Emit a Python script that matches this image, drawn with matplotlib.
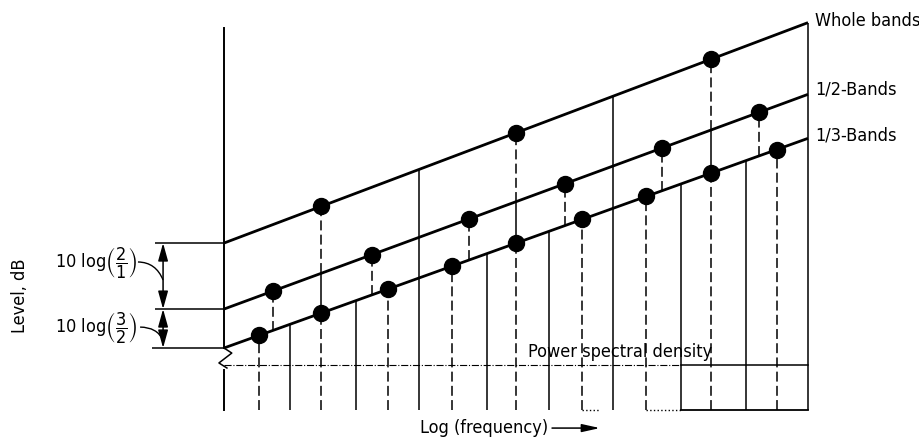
import matplotlib
matplotlib.use("Agg")
import matplotlib.pyplot as plt
from matplotlib import font_manager
import numpy as np
from matplotlib.path import Path
from matplotlib.patches import PathPatch

# narrow sans if available, else condensed DejaVu
names = {f.name for f in font_manager.fontManager.ttflist}
if 'Liberation Sans Narrow' in names:
    plt.rcParams['font.family'] = ['Liberation Sans Narrow', 'DejaVu Sans']
else:
    plt.rcParams['font.family'] = ['DejaVu Sans']
    plt.rcParams['font.stretch'] = 'condensed'
plt.rcParams['mathtext.fontset'] = 'dejavusans'
plt.rcParams['lines.dashed_pattern'] = [6.5, 2.8]

# x : octaves from the left edge,  y : level in dB (0 = start of the 1/3-band line)
line_ends = [0.0, 3.0]
whole_line = [4.77, 14.79]
half_line = [1.77, 11.53]
third_line = [0.0, 9.53]

whole_centers = [0.50, 1.50, 2.50]
whole_levels = [6.44, 9.78, 13.12]
half_centers = [0.25, 0.76, 1.26, 1.75, 2.25, 2.75]
half_levels = [2.58, 4.24, 5.87, 7.46, 9.09, 10.72]
third_centers = [0.18, 0.50, 0.84, 1.17, 1.50, 1.84, 2.17, 2.50, 2.84]
third_levels = [0.57, 1.59, 2.67, 3.72, 4.77, 5.85, 6.89, 7.94, 9.02]

whole_edges = [1.0, 2.0, 3.0]
half_edges = [0.5, 1.5, 2.5]
third_edges = [0.34, 0.68, 1.35, 1.67, 2.35, 2.68]

line_labels = ['Whole bands', '1/2-Bands', '1/3-Bands']
axis_top = 14.55
floor = -2.82
psd_level = -0.77
psd_solid_from = 2.35
psd_dotted = [[1.84, 1.93], [2.17, 2.35]]


def at(line, x):
    return np.interp(x, line_ends, line)


fig = plt.figure(figsize=(9.2, 4.42), dpi=100)
ax = fig.add_axes([0, 0, 1, 1])
ax.set_xlim(-1.1507, 3.5753)
ax.set_ylim(-4.273, 15.818)
ax.axis('off')

K = 'black'

# band level lines
for line in (whole_line, half_line, third_line):
    ax.plot(line_ends, line, color=K, lw=2.0, solid_capstyle='butt')

# band edges (solid)
ax.vlines(whole_edges, floor, at(whole_line, whole_edges), color=K, lw=1.1)
ax.vlines(half_edges, at(third_line, half_edges), at(half_line, half_edges), color=K, lw=1.1)
ax.vlines(third_edges, floor, at(third_line, third_edges), color=K, lw=1.1)

# band centres (dashed)
ax.vlines(whole_centers, at(half_line, whole_centers), whole_levels, color=K, lw=1.1, linestyles='dashed')
ax.vlines(half_centers, at(third_line, half_centers), half_levels, color=K, lw=1.1, linestyles='dashed')
ax.vlines(third_centers, floor, third_levels, color=K, lw=1.1, linestyles='dashed')

# dots
for cx, lv in ((whole_centers, whole_levels), (half_centers, half_levels), (third_centers, third_levels)):
    ax.plot(cx, lv, 'o', color=K, ms=11.5, zorder=5)

# left axis with break mark
ax.plot([0, 0], [third_line[0], axis_top], color=K, lw=1.4)
ax.plot([0, 0.04, -0.026, 0.015], [0, -0.23, -0.68, -0.91], color=K, lw=1.1)
ax.plot([0, 0], [-1.0, floor], color=K, lw=1.4)

# power spectral density
ax.plot([0, psd_solid_from], [psd_level, psd_level], color=K, lw=0.8, ls='-.')
ax.plot([psd_solid_from, line_ends[1]], [psd_level, psd_level], color=K, lw=1.1)
ax.plot([psd_solid_from, line_ends[1]], [floor, floor], color=K, lw=1.3)
for seg in psd_dotted:
    ax.plot(seg, [floor, floor], color=K, lw=1.0, ls=':')

# level differences at left
ax.hlines([whole_line[0], half_line[0]], -0.354, 0, color=K, lw=1.1)
ax.hlines(third_line[0], -0.37, 0, color=K, lw=1.1)
for y0, y1 in ((whole_line[0], half_line[0]), (half_line[0], third_line[0])):
    ax.annotate('', xy=(-0.313, y1), xytext=(-0.313, y0),
                arrowprops=dict(arrowstyle='<|-|>,head_length=0.9,head_width=0.25',
                                color=K, lw=1.1, shrinkA=0, shrinkB=0, mutation_scale=12))

fs = 13
ax.text(-0.447, 3.86, r'10 log$\left(\dfrac{2}{1}\right)$', ha='right', va='center', fontsize=fs)
ax.text(-0.447, 0.91, r'10 log$\left(\dfrac{3}{2}\right)$', ha='right', va='center', fontsize=fs)
for pts in ([(-0.442, 3.91), (-0.35, 3.9), (-0.313, 3.09)],
            [(-0.431, 0.95), (-0.345, 0.95), (-0.313, 0.36)]):
    ax.add_patch(PathPatch(Path(pts, [Path.MOVETO, Path.CURVE3, Path.CURVE3]),
                           fc='none', ec=K, lw=1.0))

# labels
for lab, y in zip(line_labels, [14.86, 11.73, 9.68]):
    ax.text(3.036, y, lab, ha='left', va='center', fontsize=fs)
ax.text(1.562, -0.41, 'Power spectral density', ha='left', va='baseline', fontsize=fs)
ax.text(1.007, -3.64, 'Log (frequency)', ha='left', va='center', fontsize=fs)
ax.annotate('', xy=(1.931, -3.64), xytext=(1.685, -3.64),
            arrowprops=dict(arrowstyle='-|>,head_length=0.9,head_width=0.2',
                            color=K, lw=1.1, shrinkA=0, shrinkB=0, mutation_scale=12))
ax.text(-1.048, 2.36, 'Level, dB', ha='center', va='center', rotation=90, fontsize=fs)

fig.savefig('out.png', dpi=100)
